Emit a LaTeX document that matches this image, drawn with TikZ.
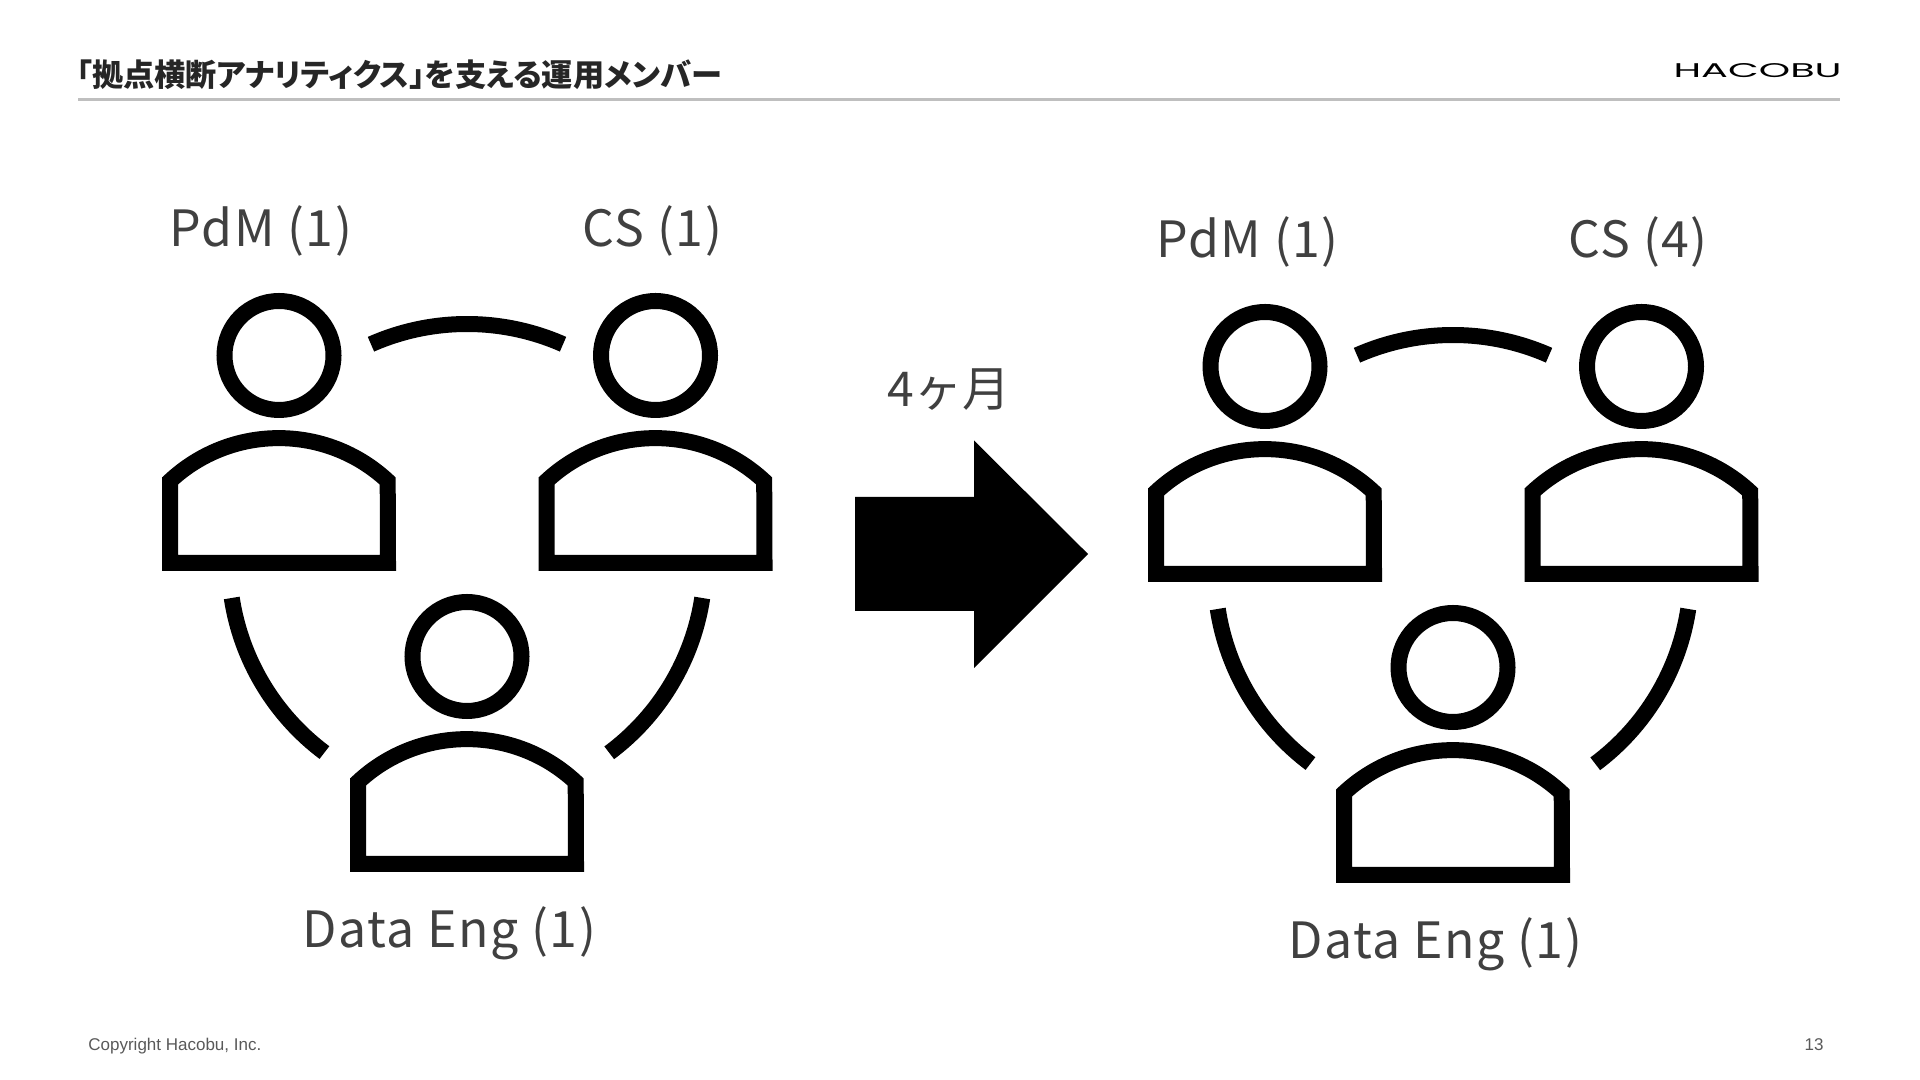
\documentclass[tikz,border=0pt]{standalone}
\usepackage{fontspec}
\setmainfont{Noto Sans CJK JP}
\newfontfamily\titlefont[RawFeature=+palt]{Noto Sans CJK JP}
\newfontfamily\labelfont[LetterSpace=3]{Noto Sans CJK JP}
\newfontfamily\arialfont{Liberation Sans}
\newfontfamily\logofont{Poppins}
\usetikzlibrary{positioning}
\definecolor{ink}{RGB}{64,64,64}
\definecolor{rulegrey}{RGB}{191,191,191}
\definecolor{footgrey}{RGB}{89,89,89}
\tikzset{
  every picture/.style={x=0.5pt,y=0.5pt},
  iconline/.style={draw=black,line width=8pt,line cap=butt,miter limit=10},
  member/.style={ink,inner sep=0pt,font=\labelfont\fontsize{25}{29}\selectfont},
  pics/member/.style={code={
    \draw[iconline] (0,0) circle[radius=54.5];
    \draw[iconline] (-109,-207.5) -- (-109,-125.5)
      arc[start angle=133,end angle=47,radius=159.6] -- (109,-207.5) -- cycle;
  }},
  pics/team/.style={code={
    \pic at (279,724.5) {member};
    \pic at (655.5,724.5) {member};
    \pic at (467,423.5) {member};
    \draw[iconline] (467,518) ++(66.2:238) arc[start angle=66.2,end angle=113.8,radius=238];
    \draw[iconline] (467,518) ++(188.7:238) arc[start angle=188.7,end angle=233.2,radius=238];
    \draw[iconline] (467,518) ++(306.7:238) arc[start angle=306.7,end angle=351.3,radius=238];
  }},
}
\begin{document}
\begin{tikzpicture}
  \useasboundingbox (0,0) rectangle (1920,1080);
  % header
  \node[anchor=west,inner sep=0pt,black!85,font=\titlefont\fontsize{15.6}{17}\bfseries\selectfont] (title) at (76,1005) {「拠点横断アナリティクス」を支える運用メンバー};
  \draw[rulegrey,line width=1.5pt] (78,980) -- (1840,980);
  \node[anchor=east,inner sep=0pt,black,font=\logofont] (logo) at (1842,1009) {\resizebox{84pt}{7pt}{HACOBU}};
  % two teams
  \pic at (0,0) {team};
  \pic at (986,-11) {team};
  % left labels
  \node[member] (pdma) at (261,849) {PdM (1)};
  \node[member] (csa) at (652.5,849) {CS (1)};
  \node[member] (dataa) at (449.5,147) {Data Eng (1)};
  % right labels
  \node[member] (pdmb) at (1247.5,838) {PdM (1)};
  \node[member] (csb) at (1638,838) {CS (4)};
  \node[member] (datab) at (1435.5,136) {Data Eng (1)};
  % arrow
  \node[ink,inner sep=0pt,font=\fontsize{24}{28}\selectfont] (months) at (949,690) {4ヶ月};
  \fill[black] (855,583) -- (974,583) -- (974,639.5) -- (1088,526) -- (974,412) -- (974,469) -- (855,469) -- cycle;
  % footer
  \node[anchor=west,inner sep=0pt,footgrey,font=\arialfont\fontsize{8.5}{10}\selectfont] (copy) at (88,33.5) {Copyright Hacobu, Inc.};
  \node[inner sep=0pt,footgrey,font=\arialfont\fontsize{8.5}{10}\selectfont] (pageno) at (1814,35.5) {13};
\end{tikzpicture}
\end{document}
